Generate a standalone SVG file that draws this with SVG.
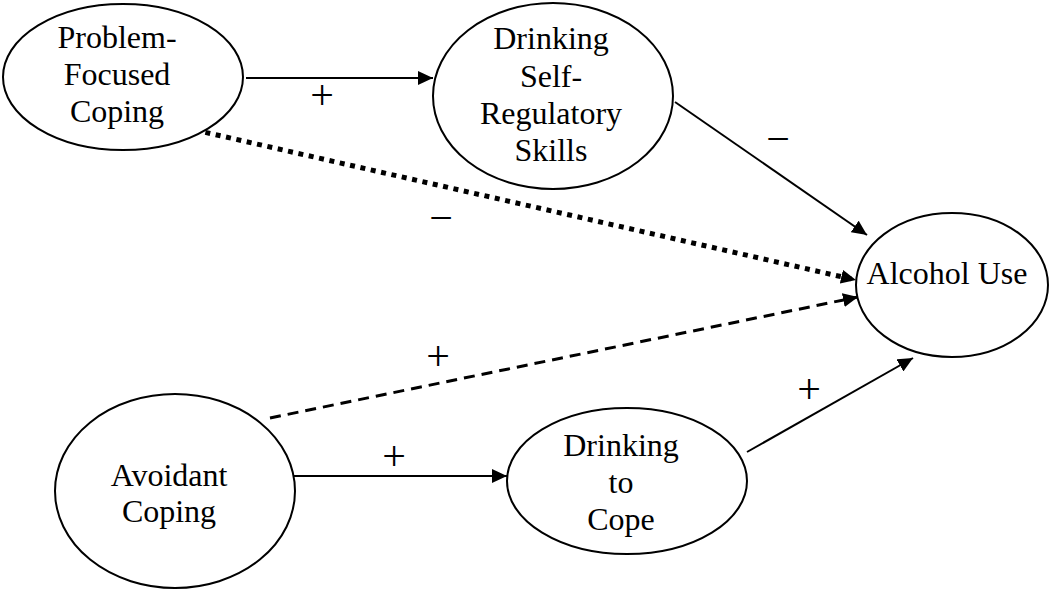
<svg xmlns="http://www.w3.org/2000/svg" width="1049" height="590" viewBox="0 0 1049 590">
  <style>
    .node { fill: #ffffff; stroke: #000000; stroke-width: 2; }
    .label { font-family: "Liberation Serif", "Times New Roman", serif; font-size: 32px; fill: #000000; text-anchor: middle; }
    .sign { font-family: "Liberation Serif", "Times New Roman", serif; font-size: 42px; fill: #000000; text-anchor: middle; }
    .edge { fill: none; stroke: #000000; stroke-width: 2; }
    .dotted { stroke-width: 5; stroke-dasharray: 5 5.6; }
    .dashed { stroke-width: 3; stroke-dasharray: 11 7; }
  </style>
  <defs>
    <marker id="arrow" markerUnits="userSpaceOnUse" markerWidth="16" markerHeight="14" refX="15" refY="7" orient="auto">
      <path d="M0,0 L15,7 L0,14 Z" fill="#000000"/>
    </marker>
  </defs>

  <!-- paths between constructs -->
  <g id="connectors">
    <line class="edge" x1="246" y1="78" x2="433" y2="78" marker-end="url(#arrow)"/>
    <line class="edge" x1="675" y1="102" x2="867" y2="235" marker-end="url(#arrow)"/>
    <line class="edge dotted" x1="195" y1="130" x2="856" y2="280" marker-end="url(#arrow)"/>
    <line class="edge dashed" x1="270" y1="418" x2="858" y2="297" marker-end="url(#arrow)"/>
    <line class="edge" x1="292" y1="476" x2="507" y2="476" marker-end="url(#arrow)"/>
    <line class="edge" x1="747" y1="452" x2="913" y2="358" marker-end="url(#arrow)"/>

    <text class="sign" x="322" y="109">+</text>
    <text class="sign" x="778" y="152.5">−</text>
    <text class="sign" x="441" y="231.5">−</text>
    <text class="sign" x="438" y="369.5">+</text>
    <text class="sign" x="394" y="469.5">+</text>
    <text class="sign" x="809" y="402.5">+</text>
  </g>

  <g id="problem-focused-coping">
    <ellipse class="node" cx="123" cy="77" rx="120" ry="73"/>
    <text class="label" x="117" y="48">Problem-</text>
    <text class="label" x="117" y="85">Focused</text>
    <text class="label" x="117" y="122">Coping</text>
  </g>

  <g id="drinking-self-regulatory-skills">
    <ellipse class="node" cx="553" cy="96" rx="120" ry="93"/>
    <text class="label" x="551" y="49">Drinking</text>
    <text class="label" x="551" y="87">Self-</text>
    <text class="label" x="551" y="124">Regulatory</text>
    <text class="label" x="551" y="161">Skills</text>
  </g>

  <g id="alcohol-use">
    <ellipse class="node" cx="952" cy="285" rx="96" ry="72"/>
    <text class="label" x="947" y="284">Alcohol Use</text>
  </g>

  <g id="avoidant-coping">
    <ellipse class="node" cx="175" cy="491" rx="120" ry="97"/>
    <text class="label" x="169" y="486">Avoidant</text>
    <text class="label" x="169" y="522">Coping</text>
  </g>

  <g id="drinking-to-cope">
    <ellipse class="node" cx="627" cy="481" rx="120" ry="73"/>
    <text class="label" x="621" y="456">Drinking</text>
    <text class="label" x="621" y="493">to</text>
    <text class="label" x="621" y="530">Cope</text>
  </g>
</svg>
